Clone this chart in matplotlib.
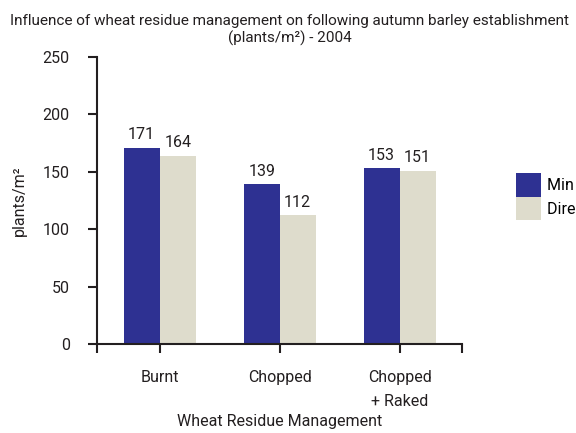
import numpy as np
import matplotlib
matplotlib.use("Agg")
import matplotlib.pyplot as plt

plt.rcParams['font.family'] = ['Roboto', 'DejaVu Sans']

categories = ["Burnt", "Chopped", "Chopped\n+ Raked"]
series_names = ["Min Till", "Direct Drill"]
min_till = [171, 139, 153]
direct_drill = [164, 112, 151]

BLUE = "#2e3192"
BEIGE = "#dedccc"
INK = "#231f20"
FS = 11.5

fig = plt.figure(figsize=(5.76, 4.33), dpi=100)
ax = fig.add_axes([0.168, 0.2055, 0.634, 0.663])

x = np.arange(len(categories))
w = 0.3
b1 = ax.bar(x - w / 2, min_till, w, color=BLUE, label=series_names[0])
b2 = ax.bar(x + w / 2, direct_drill, w, color=BEIGE, label=series_names[1])

for bars, vals in [(b1, min_till), (b2, direct_drill)]:
    for rect, v in zip(bars, vals):
        ax.annotate(str(v), xy=(rect.get_x() + rect.get_width() / 2, rect.get_height()),
                    xytext=(0, 4), textcoords="offset points",
                    ha="center", va="bottom", fontsize=FS, color=INK)

ax.set_xlim(-0.525, 2.52)
ax.set_ylim(0, 250)
ax.set_yticks(range(0, 251, 50))
ax.set_xticks(x)
ax.set_xticklabels(categories, fontsize=FS, color=INK, linespacing=1.75, va="top")
ax.set_xticks([-0.525, 2.52], minor=True)
ax.tick_params(axis="y", labelsize=FS, colors=INK, length=6.5, width=1.5, pad=13)
ax.tick_params(axis="x", which="both", length=6.5, width=1.5, colors=INK, pad=12)

for s in ["top", "right"]:
    ax.spines[s].set_visible(False)
for s in ["left", "bottom"]:
    ax.spines[s].set_linewidth(1.5)
    ax.spines[s].set_color(INK)

ax.set_ylabel("plants/m²", fontsize=FS, color=INK, labelpad=11)
ax.set_xlabel("Wheat Residue Management", fontsize=FS, color=INK, labelpad=4)

fig.suptitle("Influence of wheat residue management on following autumn barley establishment\n"
             "(plants/m²) - 2004", fontsize=11, color=INK, x=0.503, y=0.968, va="top",
             linespacing=1.2)

fig.legend(handles=[b1, b2], labels=series_names, loc="upper left",
           bbox_to_anchor=(0.895, 0.6), frameon=False, fontsize=FS,
           handlelength=1.6, handleheight=1.9, labelspacing=0, handletextpad=0.4,
           borderpad=0, borderaxespad=0)

fig.savefig("out.png", dpi=100)
